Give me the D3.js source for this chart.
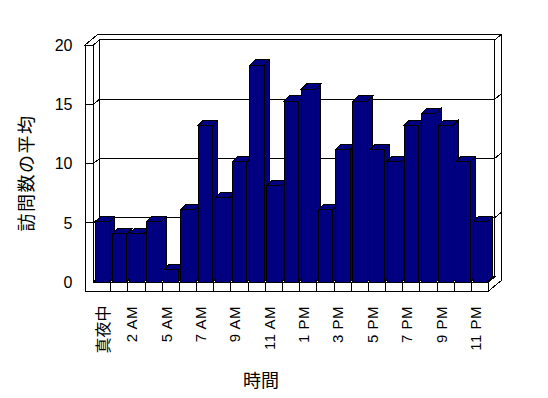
<!DOCTYPE html>
<html>
<head>
<meta charset="utf-8">
<script src="https://cdn.jsdelivr.net/npm/d3@7"></script>
<style>
  html, body { margin: 0; padding: 0; background: #fff; }
  svg { display: block; }
  text { fill: #000; }
</style>
</head>
<body>
<svg id="chart" width="548" height="398"></svg>
<script>
const width = 548;
const height = 398;

// hours shown on the category axis (every other one is labelled)
const hours = [
    "真夜中", "1 AM", "2 AM", "3 AM", "5 AM", "6 AM", "7 AM", "8 AM", "9 AM", "10 AM", "11 AM", "12 PM",
    "1 PM", "2 PM", "3 PM", "4 PM", "5 PM", "6 PM", "7 PM", "8 PM", "9 PM", "10 PM", "11 PM"
];

// average visits per hour
const visits = [5, 4, 4, 5, 1, 6, 13, 7, 10, 18, 8, 15, 16, 6, 11, 15, 11, 10, 13, 14, 13, 10, 5];

const yTicks = [0, 5, 10, 15, 20];
const gridValues = [5, 10, 15];

const yTitle = "訪問数の平均";
const xTitle = "時間";

const svg = d3.select("#chart");

// geometry of the 3D box
const wallLeft = 85;
const floorTop = 282;
const floorBottom = 291;
const D1 = 5.2;   // depth to the back wall face
const D2 = 11;    // depth to the back of the walls
const KX = 1.2;
const barDepth = 5.3;

const x = d3.scaleBand().domain(hours).range([93.5, 488.7]);
const yWall = d3.scaleLinear().domain([0, 20]).range([floorTop, 45]);
const yBar = d3.scaleLinear().domain([0, 20]).range([floorTop, 41]);

const x0 = x.range()[0];
const x1 = x.range()[1];
const wallTop = yWall(20);

const proj = (px, py, z) => [px + z * KX, py - z];
const line = d3.line();
const poly = pts => line(pts) + "Z";

const walls = svg.append("g")
    .attr("fill", "#fff")
    .attr("stroke", "#000")
    .attr("stroke-width", 1)
    .attr("shape-rendering", "crispEdges");

// back wall face
walls.append("path").attr("d", poly([
    proj(x0, wallTop, D1), proj(x1, wallTop, D1), proj(x1, floorTop, D1), proj(x0, floorTop, D1)
]));

// top of left + back walls
walls.append("path").attr("d", poly([
    [wallLeft, wallTop], proj(wallLeft, wallTop, D2), proj(x1, wallTop, D2),
    proj(x1, wallTop, D1), proj(x0, wallTop, D1), [x0, wallTop]
]));

// right side of back wall and floor
walls.append("path").attr("d", poly([
    proj(x1, wallTop, D1), proj(x1, wallTop, D2), proj(x1, floorBottom, D2),
    [x1, floorBottom], [x1, floorTop], proj(x1, floorTop, D1)
]));

// inner face of left wall
walls.append("path").attr("d", poly([
    [x0, wallTop], proj(x0, wallTop, D1), proj(x0, floorTop, D1), [x0, floorTop]
]));

// floor top
walls.append("path").attr("d", poly([
    [x0, floorTop], [x1, floorTop], proj(x1, floorTop, D1), proj(x0, floorTop, D1)
]));

// front of left wall + floor
walls.append("path").attr("d", poly([
    [wallLeft, wallTop], [x0, wallTop], [x0, floorTop], [x1, floorTop], [x1, floorBottom], [wallLeft, floorBottom]
]));

// gridlines wrapping round the walls
walls.selectAll(".grid")
    .data(gridValues)
    .enter().append("path")
    .attr("class", "grid")
    .attr("fill", "none")
    .attr("d", v => {
        const yy = yWall(v);
        return line([[wallLeft, yy], [x0, yy], proj(x0, yy, D1), proj(x1, yy, D1), proj(x1, yy, D2)]);
    });

// category dividers on the floor front
walls.selectAll(".divider")
    .data(hours.slice(1))
    .enter().append("line")
    .attr("class", "divider")
    .attr("x1", d => x(d))
    .attr("x2", d => x(d))
    .attr("y1", floorTop)
    .attr("y2", floorBottom);

// bars
const barW = 14.5;
const bars = svg.append("g")
    .attr("fill", "#000080")
    .attr("stroke", "#000")
    .attr("stroke-width", 1)
    .attr("shape-rendering", "crispEdges")
    .selectAll("g")
    .data(hours.map((h, i) => ({ h, v: visits[i] })))
    .enter().append("g");

bars.append("path").attr("d", d => {
    const bx = x(d.h) + 1.5, yt = yBar(d.v), yb = yBar(0);
    return poly([[bx + barW, yt], [bx + barW + barDepth, yt - barDepth], [bx + barW + barDepth, yb - barDepth], [bx + barW, yb]]);
});
bars.append("path").attr("d", d => {
    const bx = x(d.h) + 1.5, yt = yBar(d.v);
    return poly([[bx, yt], [bx + barW, yt], [bx + barW + barDepth, yt - barDepth], [bx + barDepth, yt - barDepth]]);
});
bars.append("rect")
    .attr("x", d => x(d.h) + 1.5)
    .attr("y", d => yBar(d.v))
    .attr("width", barW)
    .attr("height", d => yBar(0) - yBar(d.v));

// y tick labels
svg.append("g")
    .attr("font-family", "'Liberation Sans', Arial, sans-serif")
    .attr("font-size", 16)
    .attr("text-anchor", "end")
    .selectAll("text")
    .data(yTicks)
    .enter().append("text")
    .attr("x", 72.5)
    .attr("y", d => yWall(d))
    .attr("dy", "0.36em")
    .text(d => d);

// x tick labels, every other hour
const isLatin = d => /AM|PM/.test(d);
svg.append("g")
    .attr("text-anchor", "end")
    .selectAll("text")
    .data(hours.filter((h, i) => i % 2 === 0))
    .enter().append("text")
    .attr("font-size", d => isLatin(d) ? 15 : 16)
    .attr("letter-spacing", d => isLatin(d) ? 0.5 : 0)
    .attr("font-family", d => isLatin(d) ? "'Liberation Sans', Arial, sans-serif" : "'Noto Sans CJK JP', sans-serif")
    .attr("transform", d => `translate(${x(d) + x.bandwidth() / 2 + (isLatin(d) ? 0.8 : 7)},${isLatin(d) ? 306 : 305.5}) rotate(-90)`)
    .text(d => d);

// axis titles
svg.append("text")
    .attr("font-family", "'Noto Sans CJK JP', sans-serif")
    .attr("font-size", 18)
    .attr("letter-spacing", 1.5)
    .attr("text-anchor", "middle")
    .attr("transform", "translate(33,173) rotate(-90)")
    .text(yTitle);

svg.append("text")
    .attr("font-family", "'Noto Sans CJK JP', sans-serif")
    .attr("font-size", 18)
    .attr("text-anchor", "middle")
    .attr("x", 261)
    .attr("y", 387)
    .text(xTitle);
</script>
</body>
</html>
